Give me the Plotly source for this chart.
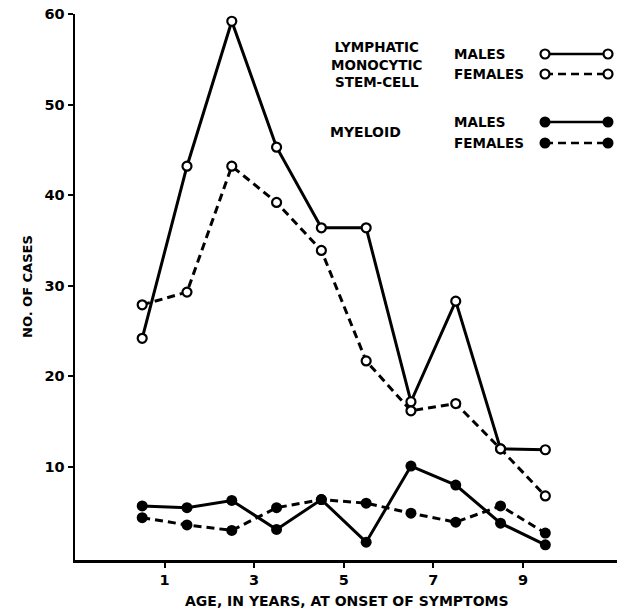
import plotly.graph_objects as go

# ---- data ----
ages = [0.5, 1.5, 2.5, 3.5, 4.5, 5.5, 6.5, 7.5, 8.5, 9.5]
lymph_males = [24.2, 43.2, 59.2, 45.3, 36.4, 36.4, 17.2, 28.3, 12.0, 11.9]
lymph_females = [27.9, 29.3, 43.2, 39.2, 33.9, 21.7, 16.2, 17.0, 12.0, 6.8]
myeloid_males = [5.7, 5.5, 6.3, 3.1, 6.4, 1.7, 10.1, 8.0, 3.8, 1.4]
myeloid_females = [4.4, 3.6, 3.0, 5.5, 6.4, 6.0, 4.9, 3.9, 5.7, 2.7]
x_ticks = [1, 3, 5, 7, 9]
y_ticks = [10, 20, 30, 40, 50, 60]
group_labels = ["LYMPHATIC<br>MONOCYTIC<br>STEM-CELL", "MYELOID"]
sex_labels = ["MALES", "FEMALES"]

FONT = "DejaVu Sans"
W, H = 620, 610
L, R, T, B = 75, 3, 14, 50
PW, PH = W - L - R, H - T - B

DASH = "8px,5px"
LW = 3


def open_marker():
    return dict(symbol="circle", size=9, color="white", line=dict(color="black", width=2.2))


def filled_marker():
    return dict(symbol="circle", size=11, color="black", line=dict(color="black", width=0))


fig = go.Figure()
series = [
    (lymph_males, "solid", open_marker()),
    (lymph_females, DASH, open_marker()),
    (myeloid_males, "solid", filled_marker()),
    (myeloid_females, DASH, filled_marker()),
]
for vals, dash, mk in series:
    fig.add_trace(go.Scatter(
        x=ages, y=vals, mode="lines+markers",
        line=dict(color="black", width=LW, dash=dash),
        marker=mk, showlegend=False, hoverinfo="skip", cliponaxis=False,
    ))

# ---- custom legend drawn on a pixel-coordinate overlay axis ----
leg_x = [545, 608]
leg_rows = [(54, "solid", open_marker()), (74, DASH, open_marker()),
            (122, "solid", filled_marker()), (143, DASH, filled_marker())]
for yy, dash, mk in leg_rows:
    fig.add_trace(go.Scatter(
        x=leg_x, y=[yy, yy], xaxis="x2", yaxis="y2", mode="lines+markers",
        line=dict(color="black", width=2.4, dash=dash),
        marker=mk, showlegend=False, hoverinfo="skip", cliponaxis=False,
    ))

annos = []
annos.append(dict(x=377, y=64, xref="x2", yref="y2", text=group_labels[0], showarrow=False,
                  font=dict(family=FONT, size=13.5, color="black", weight="bold"),
                  align="center", xanchor="center", yanchor="middle"))
annos.append(dict(x=328, y=132, xref="x2", yref="y2", text=group_labels[1], showarrow=False,
                  font=dict(family=FONT, size=14, color="black", weight="bold"),
                  xanchor="left", yanchor="middle"))
for yy, lab in zip([54, 74, 122, 143], sex_labels * 2):
    annos.append(dict(x=452, y=yy, xref="x2", yref="y2", text=lab, showarrow=False,
                      font=dict(family=FONT, size=13.5, color="black", weight="bold"),
                      xanchor="left", yanchor="middle"))

# axis titles
annos.append(dict(x=(347 - L) / PW, y=(H - 601 - B) / PH, xref="paper", yref="paper",
                  text="AGE, IN YEARS, AT ONSET OF SYMPTOMS", showarrow=False,
                  font=dict(family=FONT, size=14, color="black", weight="bold"),
                  xanchor="center", yanchor="middle"))
annos.append(dict(x=(27 - L) / PW, y=(H - 287 - B) / PH, xref="paper", yref="paper",
                  text="NO. OF CASES", showarrow=False, textangle=-90,
                  font=dict(family=FONT, size=13, color="black", weight="bold"),
                  xanchor="center", yanchor="middle"))

tickfont = dict(family=FONT, size=14.5, color="black", weight="bold")
fig.update_layout(
    width=W, height=H,
    margin=dict(l=L, r=R, t=T, b=B, autoexpand=False),
    paper_bgcolor="white", plot_bgcolor="white",
    xaxis=dict(range=[-1, 11.1], tickvals=x_ticks, ticktext=[str(v) for v in x_ticks],
               showgrid=False, zeroline=False, showline=True, linecolor="black", linewidth=2.5,
               ticks="outside", ticklen=5, tickwidth=2, tickcolor="black", tickfont=tickfont,
               automargin=False),
    yaxis=dict(range=[-0.27, 60], tickvals=y_ticks, showgrid=False, zeroline=False,
               showline=True, linecolor="black", linewidth=2.5,
               ticks="outside", ticklen=5, tickwidth=2, tickcolor="black", tickfont=tickfont,
               automargin=False),
    xaxis2=dict(range=[L, W - R], overlaying="x", visible=False, fixedrange=True),
    yaxis2=dict(range=[H - B, T], overlaying="y", visible=False, fixedrange=True),
    annotations=annos,
)

fig.write_html(
    "out.html",
    config={"displayModeBar": False, "staticPlot": True},
    post_script="document.body.style.margin='0';document.body.style.overflow='hidden';",
)
